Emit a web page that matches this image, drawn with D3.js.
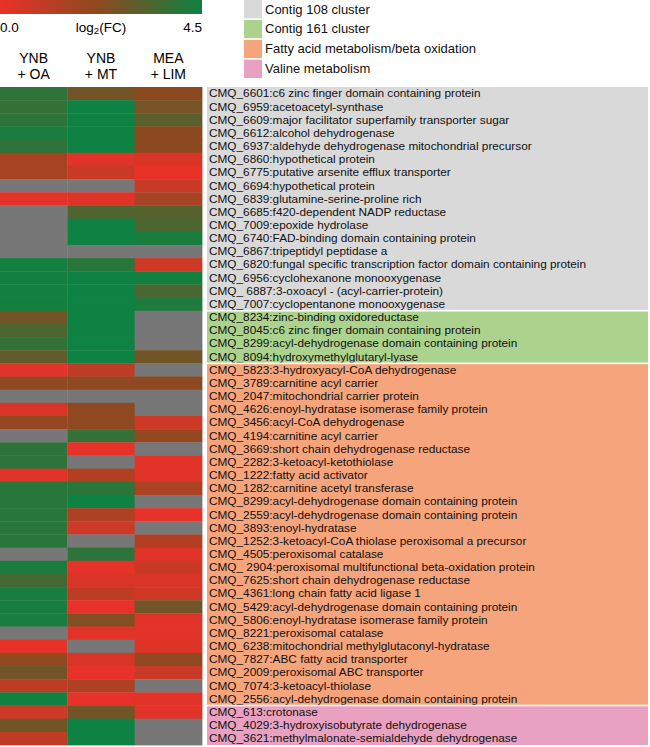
<!DOCTYPE html>
<html>
<head>
<meta charset="utf-8">
<script src="https://cdn.jsdelivr.net/npm/d3@7"></script>
<style>
  body { margin: 0; background: #fff; }
  svg { display: block; font-family: Arial, "Liberation Sans", sans-serif; }
</style>
</head>
<body>
<svg id="chart" width="650" height="747"></svg>
<script>
// conditions (column headers)
const conditions = ["YNB + OA", "YNB + MT", "MEA + LIM"];
const condLines = [["YNB", "+ OA"], ["YNB", "+ MT"], ["MEA", "+ LIM"]];

const genes = [
  "CMQ_6601:c6 zinc finger domain containing protein",
  "CMQ_6959:acetoacetyl-synthase",
  "CMQ_6609:major facilitator superfamily transporter sugar",
  "CMQ_6612:alcohol dehydrogenase",
  "CMQ_6937:aldehyde dehydrogenase mitochondrial precursor",
  "CMQ_6860:hypothetical protein",
  "CMQ_6775:putative arsenite efflux transporter",
  "CMQ_6694:hypothetical protein",
  "CMQ_6839:glutamine-serine-proline rich",
  "CMQ_6685:f420-dependent NADP reductase",
  "CMQ_7009:epoxide hydrolase",
  "CMQ_6740:FAD-binding domain containing protein",
  "CMQ_6867:tripeptidyl peptidase a",
  "CMQ_6820:fungal specific transcription factor domain containing protein",
  "CMQ_6956:cyclohexanone monooxygenase",
  "CMQ_ 6887:3-oxoacyl - (acyl-carrier-protein)",
  "CMQ_7007:cyclopentanone monooxygenase",
  "CMQ_8234:zinc-binding oxidoreductase",
  "CMQ_8045:c6 zinc finger domain containing protein",
  "CMQ_8299:acyl-dehydrogenase domain containing protein",
  "CMQ_8094:hydroxymethylglutaryl-lyase",
  "CMQ_5823:3-hydroxyacyl-CoA dehydrogenase",
  "CMQ_3789:carnitine acyl carrier",
  "CMQ_2047:mitochondrial carrier protein",
  "CMQ_4626:enoyl-hydratase isomerase family protein",
  "CMQ_3456:acyl-CoA dehydrogenase",
  "CMQ_4194:carnitine acyl carrier",
  "CMQ_3669:short chain dehydrogenase reductase",
  "CMQ_2282:3-ketoacyl-ketothiolase",
  "CMQ_1222:fatty acid activator",
  "CMQ_1282:carnitine acetyl transferase",
  "CMQ_8299:acyl-dehydrogenase domain containing protein",
  "CMQ_2559:acyl-dehydrogenase domain containing protein",
  "CMQ_3893:enoyl-hydratase",
  "CMQ_1252:3-ketoacyl-CoA thiolase peroxisomal a precursor",
  "CMQ_4505:peroxisomal catalase",
  "CMQ_ 2904:peroxisomal multifunctional beta-oxidation protein",
  "CMQ_7625:short chain dehydrogenase reductase",
  "CMQ_4361:long chain fatty acid ligase 1",
  "CMQ_5429:acyl-dehydrogenase domain containing protein",
  "CMQ_5806:enoyl-hydratase isomerase family protein",
  "CMQ_8221:peroxisomal catalase",
  "CMQ_6238:mitochondrial methylglutaconyl-hydratase",
  "CMQ_7827:ABC fatty acid transporter",
  "CMQ_2009:peroxisomal ABC transporter",
  "CMQ_7074:3-ketoacyl-thiolase",
  "CMQ_2556:acyl-dehydrogenase domain containing protein",
  "CMQ_613:crotonase",
  "CMQ_4029:3-hydroxyisobutyrate dehydrogenase",
  "CMQ_3621:methylmalonate-semialdehyde dehydrogenase"
];

// log2(FC), null = no value (grey)
const valOA = [3.9, 3.8, 3.9, 4.3, 3.9, 1.6, 1.6, null, 0.2, null,
  null, null, null, 4.4, 4.4, 4.4, 4.4, 2.7, 3.4, 3.8,
  3.0, 0.2, 2.1, null, 0.4, 2.0, null, 3.9, 3.9, 0.2,
  4.0, 4.0, 4.0, 4.0, 4.0, null, 4.3, 3.5, 4.3, 4.3,
  4.3, null, 0.1, 2.1, 2.7, 1.0, 4.5, 0.7, 2.7, 1.0];
const valMT = [2.7, 4.5, 4.5, 4.5, 4.5, 0.2, 0.8, null, 0.3, 3.3,
  4.5, 4.5, null, 4.0, 4.5, 4.5, 4.5, 4.5, 4.5, 4.5,
  4.5, 1.0, 2.1, null, 2.1, 2.1, 3.8, 0.1, null, 1.3,
  4.0, 4.5, 1.4, 0.7, null, 3.9, 0.1, 0.4, 1.0, 0.1,
  2.4, 0.2, null, 0.4, 0.1, 1.4, 0.1, 2.7, 4.5, 4.5];
const valLIM = [2.2, 2.6, 3.1, 2.2, 2.2, 0.4, 0.05, 0.8, 1.6, 3.2,
  3.4, 4.3, null, 0.7, 4.4, 3.4, 4.2, null, null, null,
  2.7, null, 2.1, null, null, 0.7, 2.0, null, 0.2, 0.2,
  1.5, null, 0.1, null, 1.3, 0.2, 0.8, 0.4, 0.6, 2.7,
  0.2, 0.2, 0.3, 2.1, 0.8, null, 0.2, 0.2, null, null];

const groups = ["Contig 108 cluster", "Contig 161 cluster", "Fatty acid metabolism/beta oxidation", "Valine metabolism"];
const groupCounts = [17, 4, 26, 3];
const groupColors = ["#d9d9d9", "#acd38d", "#f6a47c", "#e8a1c0"];

const svg = d3.select("#chart");

const x = d3.scaleBand().domain(conditions).range([0, 202]);
const y = d3.scaleBand().domain(d3.range(genes.length)).range([87, 745]);
const color = d3.scaleLinear()
  .domain([0, 2.25, 4.5])
  .range(["#ea3128", "#8a4a20", "#0d8242"])
  .clamp(true);
const missing = "#777777";

// colour bar
const defs = svg.append("defs");
const grad = defs.append("linearGradient").attr("id", "fcgrad");
d3.range(0, 1.0001, 0.1).forEach(t => {
  grad.append("stop").attr("offset", t).attr("stop-color", color(t * 4.5));
});
const cb = d3.scaleLinear().domain([0, 4.5]).range([0, 202]);
svg.append("rect")
  .attr("x", cb(0)).attr("y", 0)
  .attr("width", cb(4.5) - cb(0)).attr("height", 14)
  .attr("fill", "url(#fcgrad)");
svg.append("text").attr("x", cb(0)).attr("y", 32).attr("font-size", 13.5).text("0.0");
svg.append("text").attr("x", cb(4.5)).attr("y", 32).attr("font-size", 13.5)
  .attr("text-anchor", "end").text("4.5");
const lt = svg.append("text").attr("x", cb(2.25)).attr("y", 32).attr("font-size", 13.5)
  .attr("text-anchor", "middle");
lt.append("tspan").text("log");
lt.append("tspan").attr("font-size", 9.5).attr("dy", 2).text("2");
lt.append("tspan").attr("dy", -2).text("(FC)");

// column headers
conditions.forEach((c, i) => {
  const t = svg.append("text")
    .attr("x", x(c) + x.bandwidth() / 2)
    .attr("text-anchor", "middle")
    .attr("font-size", 14);
  t.append("tspan").attr("x", x(c) + x.bandwidth() / 2).attr("y", 63).text(condLines[i][0]);
  t.append("tspan").attr("x", x(c) + x.bandwidth() / 2).attr("y", 79).text(condLines[i][1]);
});

// legend
const legY = d3.scaleBand().domain(groups).range([0, 78]).paddingInner(0.08);
groups.forEach((g, i) => {
  svg.append("rect")
    .attr("x", 244).attr("y", legY(g))
    .attr("width", 18).attr("height", legY.bandwidth())
    .attr("fill", groupColors[i]);
  svg.append("text")
    .attr("x", 265).attr("y", legY(g) + 13.5)
    .attr("font-size", 13)
    .attr("fill", "#111")
    .text(g);
});

// heat map cells
const series = [valOA, valMT, valLIM];
const cells = [];
series.forEach((vals, ci) => vals.forEach((v, ri) => cells.push({ c: conditions[ci], r: ri, v: v })));
svg.append("g").selectAll("rect").data(cells).join("rect")
  .attr("x", d => x(d.c))
  .attr("y", d => y(d.r))
  .attr("width", x.bandwidth() + 0.4)
  .attr("height", y.bandwidth() + 0.4)
  .attr("fill", d => d.v == null ? missing : color(d.v));

// gene label panels
let start = 0;
groups.forEach((g, gi) => {
  const end = start + groupCounts[gi];
  const top = y(start) + (gi > 0 ? 0.8 : 0);
  const bottom = y(end - 1) + y.bandwidth() - (gi < groups.length - 1 ? 0.8 : 0);
  defs.append("clipPath").attr("id", "clip" + gi)
    .append("rect").attr("x", 207).attr("y", top).attr("width", 441).attr("height", bottom - top);
  svg.append("rect")
    .attr("x", 207).attr("y", top)
    .attr("width", 441).attr("height", bottom - top)
    .attr("fill", groupColors[gi]);
  svg.append("g").attr("clip-path", "url(#clip" + gi + ")")
    .selectAll("text").data(d3.range(start, end)).join("text")
    .attr("x", 209)
    .attr("y", d => y(d) + 10.4)
    .attr("font-size", 11.8)
    .attr("fill", "#111")
    .text(d => genes[d]);
  start = end;
});
</script>
</body>
</html>
